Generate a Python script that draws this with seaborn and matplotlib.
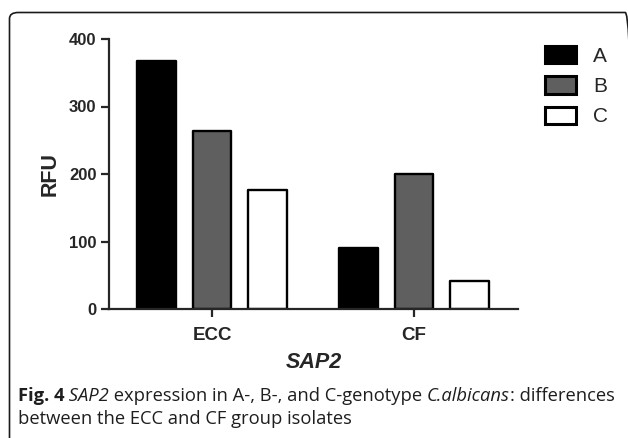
import pandas as pd
import matplotlib.pyplot as plt
import seaborn as sns
from matplotlib.patches import Patch, FancyBboxPatch

# Datos
groups = ['ECC', 'CF']
genotypes = ['A', 'B', 'C']
rfu_A = [368, 91]
rfu_B = [263, 200]
rfu_C = [177, 42]
bar_colors = ['#000000', '#5f5f5f', '#ffffff']

df = pd.DataFrame({
    'group': groups * 3,
    'genotype': ['A'] * 2 + ['B'] * 2 + ['C'] * 2,
    'rfu': rfu_A + rfu_B + rfu_C,
})

sns.set_style('ticks')
plt.rcParams['font.family'] = ['Liberation Sans', 'DejaVu Sans']

W, H = 628, 438
fig = plt.figure(figsize=(W / 100, H / 100), dpi=100)
ax = fig.add_axes([109 / W, 1 - 309 / H, (518 - 109) / W, (309 - 39) / H])

sns.barplot(data=df, x='group', y='rfu', hue='genotype', order=groups,
            hue_order=genotypes, palette=bar_colors, edgecolor='black',
            linewidth=1.7, width=0.825, gap=0.3, errorbar=None,
            legend=False, ax=ax)
for p in ax.patches:
    p.set_joinstyle('round')

ax.set_ylim(0, 400)
ax.set_xlim(-0.51, 1.515)
ax.set_yticks([0, 100, 200, 300, 400])
sns.despine(ax=ax)
for s in ['left', 'bottom']:
    ax.spines[s].set_linewidth(1.6)
ax.tick_params(axis='y', length=6, width=1.6, pad=3, labelsize=12)
ax.tick_params(axis='x', length=6, width=1.6, pad=7, labelsize=13.5)
for lab in ax.get_xticklabels() + ax.get_yticklabels():
    lab.set_fontweight('bold')

ax.set_ylabel('RFU', fontsize=15.5, fontweight='bold', labelpad=6)
ax.set_xlabel('SAP2', fontsize=15.5, fontweight='bold', fontstyle='italic', labelpad=6)

handles = [Patch(facecolor=c, edgecolor='black', linewidth=2.2, joinstyle='round')
           for c in bar_colors]
ax.legend(handles, genotypes, loc='upper left', frameon=False, fontsize=15,
          bbox_to_anchor=(545 / W, 1 - 46 / H), bbox_transform=fig.transFigure,
          borderaxespad=0, borderpad=0, handlelength=1.5, handleheight=0.9,
          labelspacing=0.5, handletextpad=0.8)

# Marco redondeado de la figura (se corta a la derecha y abajo)
frame = FancyBboxPatch((9.5 / W, -0.1), (634 - 9.5) / W, 1.1 - 12.5 / H,
                       boxstyle='round,pad=0,rounding_size=0.014',
                       transform=fig.transFigure, facecolor='none',
                       edgecolor='#1a1a1a', linewidth=1.2, clip_on=False)
fig.patches.append(frame)

# Pie de figura con estilos mezclados
cap_font = ['Open Sans', 'DejaVu Sans']
renderer = fig.canvas.get_renderer()


def write_line(pieces, x, y):
    for txt, weight, style in pieces:
        t = fig.text(x / W, 1 - y / H, txt, fontsize=13.2, family=cap_font,
                     fontweight=weight, fontstyle=style, va='baseline',
                     ha='left', color='#1e1e1e')
        bb = t.get_window_extent(renderer=renderer)
        x = bb.x1


write_line([
    ('Fig. 4', 'bold', 'normal'),
    (' SAP2', 'normal', 'italic'),
    (' expression in A-, B-, and C-genotype ', 'normal', 'normal'),
    ('C.albicans', 'normal', 'italic'),
    (': differences', 'normal', 'normal'),
], 18, 401)
write_line([('between the ECC and CF group isolates', 'normal', 'normal')], 18, 424)

fig.savefig('out.png', dpi=100)
